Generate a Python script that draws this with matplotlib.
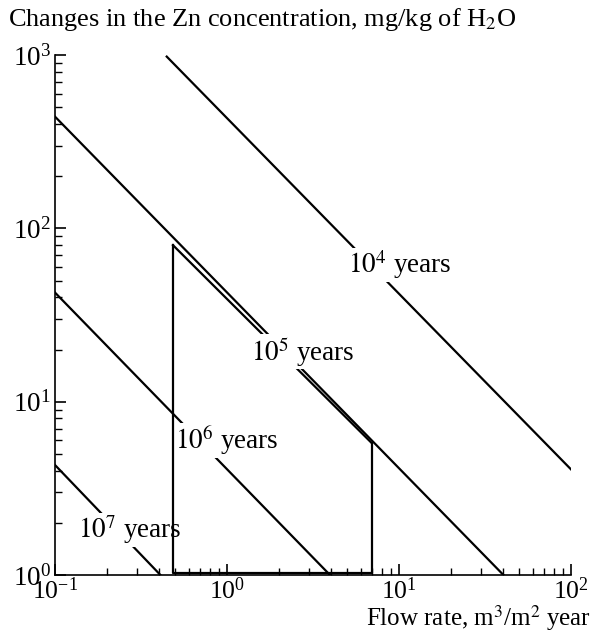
"""Zn concentration vs flow rate, log-log diagram."""
import matplotlib.pyplot as plt
from matplotlib.ticker import LogLocator, NullFormatter

plt.rcParams["font.family"] = ["Liberation Serif", "DejaVu Serif"]
plt.rcParams["mathtext.fontset"] = "stix"

# line endpoints (flow rate, concentration)
x_1e4 = [0.446, 100.0]
y_1e4 = [980.0, 4.07]
x_1e5 = [0.1, 40.5]
y_1e5 = [441.0, 1.0]
x_1e6 = [0.1, 3.97]
y_1e6 = [42.6, 1.0]
x_1e7 = [0.1, 0.41]
y_1e7 = [4.31, 1.0]

# closed contour
poly_x = [0.485, 0.485, 6.93, 6.93, 0.485]
poly_y = [1.03, 80.0, 5.78, 1.03, 1.03]

labels = [r"$10^4$ years", r"$10^5$ years", r"$10^6$ years", r"$10^7$ years"]
label_x = [10.1, 2.77, 0.99, 0.273]
label_y = [61.5, 19.4, 6.0, 1.82]

fig = plt.figure(figsize=(5.92, 6.33), dpi=100)
ax = fig.add_axes([0.093, 0.0916, 0.8715, 0.8214])

for xs, ys in [(x_1e4, y_1e4), (x_1e5, y_1e5), (x_1e6, y_1e6), (x_1e7, y_1e7)]:
    ax.plot(xs, ys, color="black", lw=1.6, zorder=2)
# diagonal of the contour sits under the labels, the rest above
ax.plot(poly_x[1:3], poly_y[1:3], color="black", lw=1.6, zorder=2)
ax.plot(poly_x[2:] + poly_x[:2], poly_y[2:] + poly_y[:2], color="black", lw=1.6, zorder=5)

for t, lx, ly in zip(labels, label_x, label_y):
    ax.text(lx, ly, t, ha="center", va="center", fontsize=19.5, zorder=4,
            bbox=dict(facecolor="white", edgecolor="none", pad=0.5))

ax.set_xscale("log")
ax.set_yscale("log")
ax.set_xlim(0.1, 100)
ax.set_ylim(1, 1000)

for s in ("top", "right"):
    ax.spines[s].set_visible(False)
for s in ("left", "bottom"):
    ax.spines[s].set_linewidth(1.2)

ax.xaxis.set_minor_locator(LogLocator(base=10, subs=range(2, 10)))
ax.yaxis.set_minor_locator(LogLocator(base=10, subs=range(2, 10)))
ax.xaxis.set_minor_formatter(NullFormatter())
ax.yaxis.set_minor_formatter(NullFormatter())
ax.tick_params(which="major", direction="in", length=8, width=1.2, labelsize=19.5)
ax.tick_params(which="minor", direction="in", length=5, width=1.0)
ax.tick_params(axis="y", which="major", pad=3)
ax.tick_params(axis="x", which="major", pad=1.5, labelsize=18.5)

fig.text(0.014, 0.99, r"Changes in the Zn concentration, mg/kg of H$_2$O",
         ha="left", va="top", fontsize=19)
fig.text(0.998, 0.011, r"Flow rate, m$^3$/m$^2$ year", ha="right", va="baseline", fontsize=18)

fig.savefig("out.png", dpi=100, facecolor="white")
